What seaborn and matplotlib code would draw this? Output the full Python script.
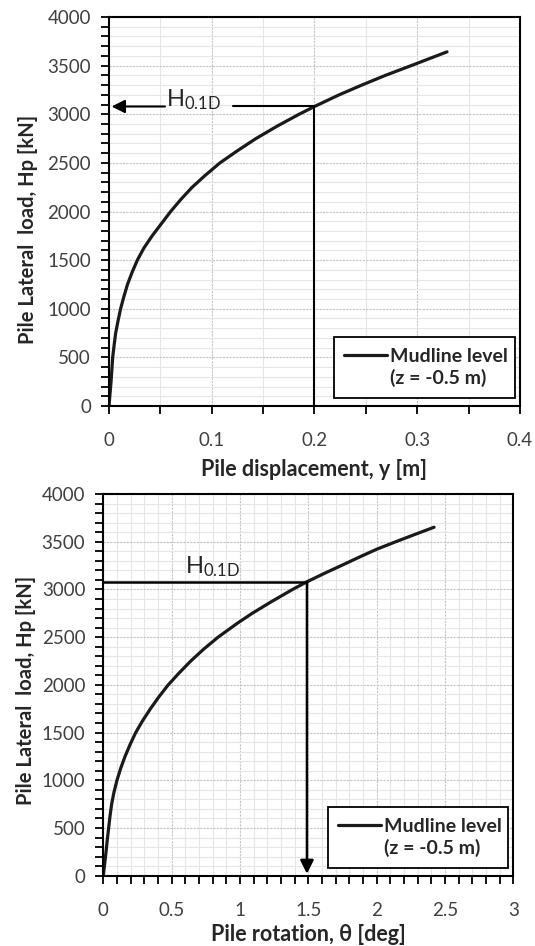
import matplotlib
matplotlib.use("Agg")
import matplotlib.pyplot as plt
import seaborn as sns
import pandas as pd
from matplotlib.ticker import MultipleLocator
from matplotlib.lines import Line2D

# ---------------- data ----------------
disp_y = [0, 0.001, 0.002, 0.0028, 0.0036, 0.005, 0.0065, 0.0088, 0.0113,
          0.0145, 0.018, 0.0225, 0.0276, 0.034, 0.042, 0.051, 0.060,
          0.070, 0.081, 0.094, 0.108, 0.125, 0.143, 0.164, 0.185, 0.2,
          0.224, 0.246, 0.269, 0.294, 0.329]
load_disp = [0, 125, 250, 375, 500, 625, 750, 875, 1000,
             1125, 1250, 1375, 1500, 1625, 1750, 1875, 2000,
             2125, 2250, 2375, 2500, 2625, 2750, 2880, 3000, 3080,
             3200, 3300, 3400, 3500, 3642]

rot_theta = [0, 0.01, 0.02, 0.029, 0.039, 0.049, 0.061, 0.078, 0.1, 0.127,
             0.159, 0.196, 0.237, 0.288, 0.345, 0.407, 0.475, 0.555, 0.64,
             0.735, 0.84, 0.98, 1.09, 1.23, 1.385, 1.49, 1.62, 1.75, 1.875,
             2.0, 2.14, 2.237, 2.42]
load_rot = [0, 125, 250, 375, 500, 625, 750, 875, 1000, 1125,
            1250, 1375, 1500, 1625, 1750, 1875, 2000, 2125, 2250,
            2375, 2500, 2645, 2750, 2872, 3000, 3080, 3170, 3256, 3340,
            3421, 3500, 3553, 3652]

H_01D = 3080          # kN
y_at_H01D = 0.2       # m
theta_at_H01D = 1.49  # deg

xticks_top = [0, 0.1, 0.2, 0.3, 0.4]
xticklabels_top = ["0", "0.1", "0.2", "0.3", "0.4"]
xticks_bot = [0, 0.5, 1, 1.5, 2, 2.5, 3]
xticklabels_bot = ["0", "0.5", "1", "1.5", "2", "2.5", "3"]
yticks = [0, 500, 1000, 1500, 2000, 2500, 3000, 3500, 4000]
yticklabels = [str(v) for v in yticks]

legend_labels = ["Mudline level", "(z = -0.5 m)"]
ylabel = "Pile Lateral  load, Hp [kN]"
xlabel_top = "Pile displacement, y [m]"
xlabel_bot = "Pile rotation, θ [deg]"
h_label = r"H$_{\mathregular{0.1D}}$"

# ---------------- style ----------------
sns.set_theme(style="white")
plt.rcParams["font.family"] = ["Lato", "DejaVu Sans"]
plt.rcParams["mathtext.default"] = "regular"

TICK_COLOR = "#404040"
LABEL_COLOR = "#262626"
CURVE = "#1a1a1a"

fig = plt.figure(figsize=(5.35, 9.46), dpi=100)
ax1 = fig.add_axes([0.2037, 0.5708, 0.7682, 0.4112])
ax2 = fig.add_axes([0.1931, 0.0743, 0.7664, 0.4035])

df_top = pd.DataFrame({"y": disp_y, "H": load_disp})
df_bot = pd.DataFrame({"theta": rot_theta, "H": load_rot})

sns.lineplot(data=df_top, x="y", y="H", ax=ax1, color=CURVE, lw=2.3,
             sort=False, estimator=None, legend=False)
sns.lineplot(data=df_bot, x="theta", y="H", ax=ax2, color=CURVE, lw=2.3,
             sort=False, estimator=None, legend=False)


def style_axes(ax, xmax, xticks, xlabels, xminor, xlabel, xlab_y, ylab_x, ylab_y):
    ax.set_xlim(0, xmax)
    ax.set_ylim(0, 4000)
    ax.set_xticks(xticks, xlabels)
    ax.set_yticks(yticks, yticklabels)
    ax.xaxis.set_minor_locator(MultipleLocator(xminor))
    ax.yaxis.set_minor_locator(MultipleLocator(100))
    ax.grid(which="major", color="#c4c4c4", lw=0.8, ls=(0, (2, 1)))
    ax.grid(which="minor", color="#e6e6e6", lw=0.8, ls="-")
    ax.set_axisbelow(True)
    for s in ax.spines.values():
        s.set_color("black")
        s.set_linewidth(1.5)
        s.set_visible(True)
    ax.tick_params(which="both", direction="out", length=6, width=1.3,
                   color="black", bottom=True, left=True)
    ax.tick_params(axis="x", which="major", pad=13, labelsize=13.5,
                   labelcolor=TICK_COLOR)
    ax.tick_params(axis="y", which="major", pad=7, labelsize=13.5,
                   labelcolor=TICK_COLOR)
    ax.set_xlabel(xlabel, fontsize=15.5, fontweight="bold", color=LABEL_COLOR)
    ax.set_ylabel(ylabel, fontsize=14.5, fontweight="bold", color=LABEL_COLOR)
    ax.xaxis.set_label_coords(0.5, xlab_y)
    ax.yaxis.set_label_coords(ylab_x, ylab_y)
    h = Line2D([], [], color=CURVE, lw=2.3)
    blank = Line2D([], [], color="none")
    leg = ax.legend(handles=[h, blank], labels=legend_labels,
                    loc="lower left", bbox_to_anchor=(0.547, 0.021, 0.441, 0.18),
                    mode="expand", borderaxespad=0, frameon=True,
                    fancybox=False, edgecolor="black", framealpha=1,
                    prop={"weight": "bold", "size": 14},
                    handlelength=2.2, handletextpad=0.15, labelspacing=0.2,
                    borderpad=0.55)
    leg.get_frame().set_linewidth(1.3)
    for t in leg.get_texts():
        t.set_color(LABEL_COLOR)


style_axes(ax1, 0.4, xticks_top, xticklabels_top, 0.05, xlabel_top,
           -0.137, -0.172, 0.455)
style_axes(ax2, 3, xticks_bot, xticklabels_bot, 0.1, xlabel_bot,
           -0.127, -0.163, 0.485)

# ---------------- H0.1D construction lines ----------------
# top: vertical drop and arrow to the load axis, broken by the label
ax1.plot([y_at_H01D, y_at_H01D], [0, H_01D], color="black", lw=1.5)
ax1.plot([y_at_H01D, 0.1207], [H_01D, H_01D], color="black", lw=1.5)
ax1.annotate("", xy=(0.0025, H_01D), xytext=(0.0545, H_01D),
             arrowprops=dict(arrowstyle="-|>", color="black", lw=1.5,
                             mutation_scale=20, shrinkA=0, shrinkB=0))
ax1.text(0.0555, H_01D, h_label, ha="left", va="baseline", fontsize=17,
         color=LABEL_COLOR)

# bottom: horizontal line from the load axis, arrow down to rotation axis
ax2.plot([0, theta_at_H01D], [H_01D, H_01D], color="black", lw=1.8)
ax2.annotate("", xy=(theta_at_H01D, 20), xytext=(theta_at_H01D, H_01D),
             arrowprops=dict(arrowstyle="-|>", color="black", lw=1.8,
                             mutation_scale=20, shrinkA=0, shrinkB=0))
ax2.text(0.80, H_01D + 90, h_label, ha="center", va="baseline", fontsize=17,
         color=LABEL_COLOR)

fig.savefig("out.png", dpi=100)
